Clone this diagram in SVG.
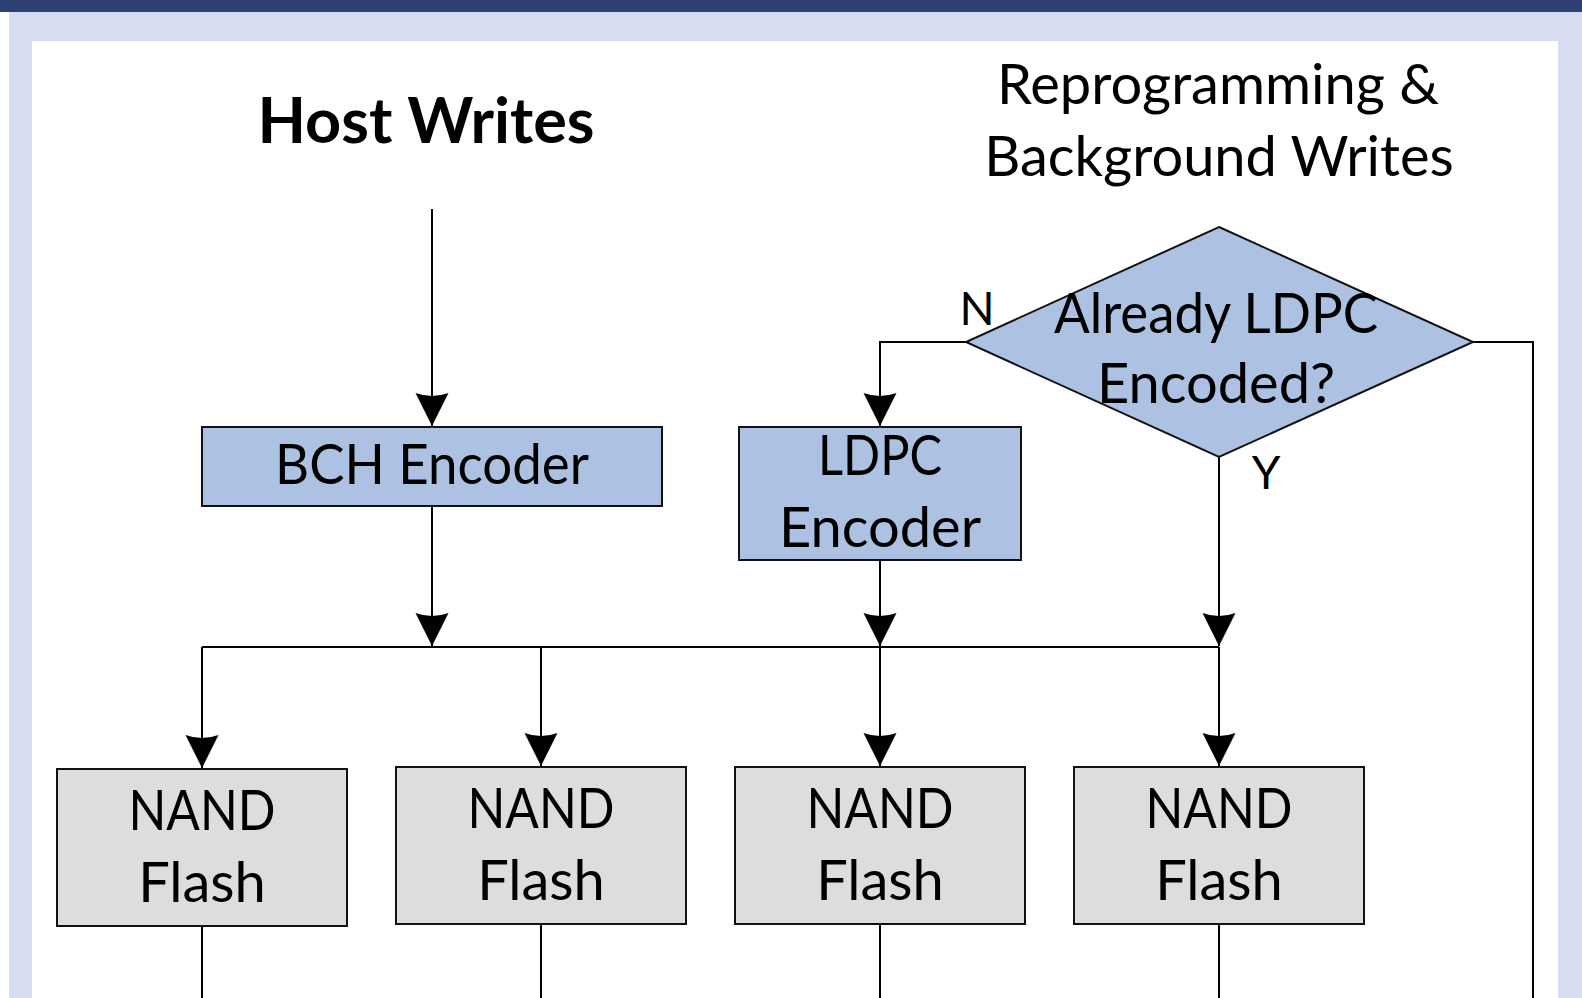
<svg xmlns="http://www.w3.org/2000/svg" width="1582" height="998" viewBox="0 0 1582 998">
<defs>
<style>
.t{font-family:Lato,"Liberation Sans",sans-serif;font-size:56px;fill:#000;text-anchor:middle}
.b{font-weight:bold;font-size:63px}
.box{stroke:#111;stroke-width:2}
.enc{fill:#ADC2E3}
.nand{fill:#DDDDDD}
.ln{fill:none;stroke:#000;stroke-width:2}
</style>
<marker id="ah" markerUnits="userSpaceOnUse" markerWidth="40" markerHeight="40" viewBox="-20 -36 40 40" refX="0" refY="0" orient="0">
<path d="M0,0 L-16.5,-33 Q0,-27 16.5,-33 Z" fill="#000"/>
</marker>
</defs>
<rect x="0" y="0" width="1582" height="998" fill="#fff"/>
<rect x="9" y="12" width="1573" height="986" fill="#D6DDF0"/>
<rect x="32" y="41" width="1526" height="957" fill="#fff"/>
<rect x="0" y="0" width="1582" height="12" fill="#2F4173"/>

<g id="title-host"><text class="t b" x="426" y="143">Host Writes</text></g>
<g id="title-reprog">
<text class="t" x="1218" y="104">Reprogramming &amp;</text>
<text class="t" x="1219" y="176">Background Writes</text>
</g>

<g id="connectors">
<path class="ln" d="M432,209 V426" marker-end="url(#ah)"/>
<path class="ln" d="M432,506 V646" marker-end="url(#ah)"/>
<path class="ln" d="M880,560 V646" marker-end="url(#ah)"/>
<path class="ln" d="M1219,457 V646" marker-end="url(#ah)"/>
<path class="ln" d="M966,342 H880 V426" marker-end="url(#ah)"/>
<path class="ln" d="M1473,342 H1533 V998"/>
<path class="ln" d="M202,647 H1219"/>
<path class="ln" d="M202,647 V768" marker-end="url(#ah)"/>
<path class="ln" d="M541,647 V766" marker-end="url(#ah)"/>
<path class="ln" d="M880,647 V766" marker-end="url(#ah)"/>
<path class="ln" d="M1219,647 V766" marker-end="url(#ah)"/>
<path class="ln" d="M202,926 V998"/>
<path class="ln" d="M541,924 V998"/>
<path class="ln" d="M880,924 V998"/>
<path class="ln" d="M1219,924 V998"/>
<text class="t" x="977" y="325" style="font-size:46px">N</text>
<text class="t" x="1266" y="489" style="font-size:46px">Y</text>
</g>

<g id="bch">
<rect class="box enc" x="202" y="427" width="460" height="79"/>
<text class="t" x="432" y="484" textLength="314" lengthAdjust="spacingAndGlyphs">BCH Encoder</text>
</g>
<g id="ldpc">
<rect class="box enc" x="739" y="427" width="282" height="133"/>
<text class="t" x="880" y="475" textLength="124" lengthAdjust="spacingAndGlyphs">LDPC</text>
<text class="t" x="880" y="547">Encoder</text>
</g>
<g id="decision">
<polygon class="box enc" points="1219,227 1473,342 1219,457 966,342"/>
<text class="t" x="1216" y="333" textLength="324" lengthAdjust="spacingAndGlyphs">Already LDPC</text>
<text class="t" x="1216" y="403">Encoded?</text>
</g>
<g id="nand1">
<rect class="box nand" x="57" y="769" width="290" height="157"/>
<text class="t" x="202" y="830" textLength="147" lengthAdjust="spacingAndGlyphs">NAND</text>
<text class="t" x="202" y="902">Flash</text>
</g>
<g id="nand2">
<rect class="box nand" x="396" y="767" width="290" height="157"/>
<text class="t" x="541" y="828" textLength="147" lengthAdjust="spacingAndGlyphs">NAND</text>
<text class="t" x="541" y="900">Flash</text>
</g>
<g id="nand3">
<rect class="box nand" x="735" y="767" width="290" height="157"/>
<text class="t" x="880" y="828" textLength="147" lengthAdjust="spacingAndGlyphs">NAND</text>
<text class="t" x="880" y="900">Flash</text>
</g>
<g id="nand4">
<rect class="box nand" x="1074" y="767" width="290" height="157"/>
<text class="t" x="1219" y="828" textLength="147" lengthAdjust="spacingAndGlyphs">NAND</text>
<text class="t" x="1219" y="900">Flash</text>
</g>
</svg>
